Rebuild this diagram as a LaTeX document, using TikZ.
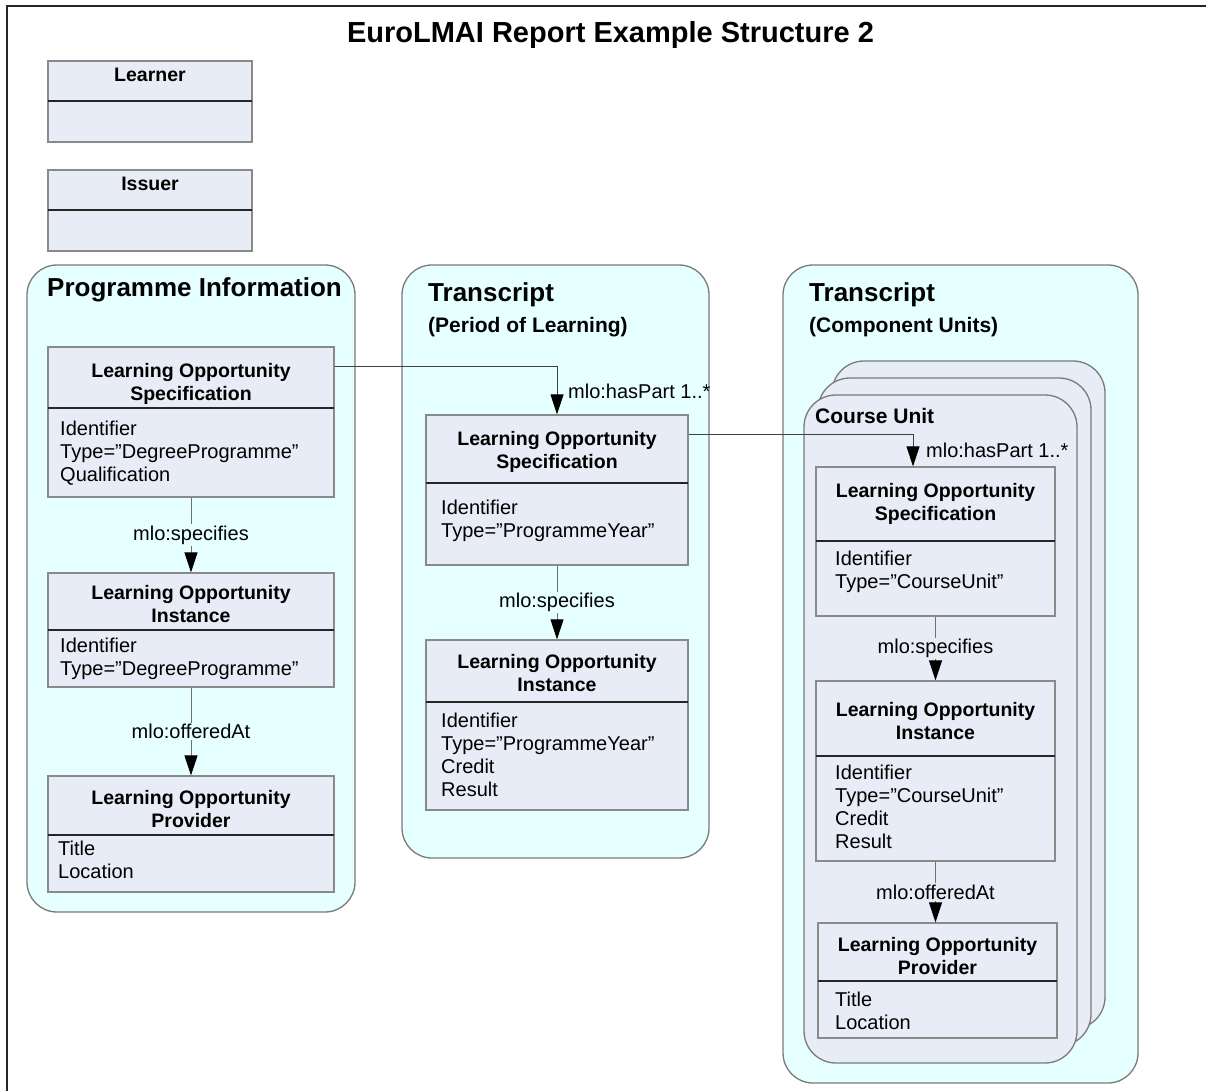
\documentclass[tikz,border=0pt]{standalone}
\usepackage{fontspec}
\setmainfont{Liberation Sans}
\usetikzlibrary{arrows.meta,fit,calc}
\definecolor{boxfill}{HTML}{E8ECF6}
\definecolor{contfill}{HTML}{E6FFFF}
\definecolor{boxline}{HTML}{8A8A8A}
\definecolor{contline}{HTML}{7A7A7A}
\definecolor{conline}{HTML}{707070}
\definecolor{hconline}{HTML}{404040}
\begin{document}
\begin{tikzpicture}[x=1pt,y=-1pt,
  cbox/.style={draw=boxline, fill=boxfill, line width=1.3pt, inner sep=0pt},
  container/.style={draw=contline, fill=contfill, line width=1.3pt, rounded corners=30pt, inner sep=0pt},
  card/.style={draw=contline, fill=boxfill, line width=1.3pt, rounded corners=32pt, inner sep=0pt},
  divline/.style={line width=2pt, draw=black!85},
  headtxt/.style={font=\fontsize{19.5}{23}\selectfont\bfseries, align=center, inner sep=0pt},
  attrtxt/.style={font=\fontsize{20}{23}\selectfont, align=left, inner sep=0pt, anchor=north west},
  rel/.style={draw=conline, line width=1pt, -{Triangle[length=20pt,width=13pt,color=black]}},
  relh/.style={draw=hconline, line width=1pt, -{Triangle[length=20pt,width=13pt,color=black]}},
  rellabel/.style={font=\fontsize{20}{23}\selectfont, inner sep=1.5pt},
  ttl/.style={font=\fontsize{26}{30}\selectfont\bfseries, inner sep=0pt, anchor=base west},
  subttl/.style={font=\fontsize{21}{25}\selectfont\bfseries, inner sep=0pt, anchor=base west},
]
\useasboundingbox (0,0) rectangle (1206,1091);
\fill[white] (0,0) rectangle (1206,1091);
% frame (only top and left visible)
\draw[line width=2pt, black!85] (7,1095) -- (7,6) -- (1210,6);

% title
\node[font=\fontsize{29}{33}\selectfont\bfseries, inner sep=0pt, anchor=base] (title) at (610.5,43) {EuroLMAI Report Example Structure 2};

% Learner / Issuer
\node[cbox, fit={(48,61) (252,142)}] (learner) {};
\draw[divline] (48,101) -- (252,101);
\node[headtxt, anchor=base] (learnert) at (150,82) {Learner};
\node[cbox, fit={(48,170) (252,251)}] (issuer) {};
\draw[divline] (48,210) -- (252,210);
\node[headtxt, anchor=base] (issuert) at (150,191) {Issuer};

% containers
\node[container, fit={(27,265) (355,912)}] (pi) {};
\node[ttl] (pit) at (47,296) {Programme Information};
\node[container, fit={(402,265) (709,858)}] (tr1) {};
\node[ttl] (tr1t) at (428,301) {Transcript};
\node[subttl] (tr1s) at (428,332.5) {(Period of Learning)};
\node[container, fit={(783,265) (1138,1083)}] (tr2) {};
\node[ttl] (tr2t) at (809,301) {Transcript};
\node[subttl] (tr2s) at (809,332.5) {(Component Units)};

% stacked course unit cards
\node[card, fit={(832,361) (1105,1029)}] (cardc) {};
\node[card, fit={(818,378) (1091,1046)}] (cardb) {};
\node[card, fit={(804,395) (1077,1063)}] (carda) {};
\node[subttl] (cut) at (815,423.5) {Course Unit};

% Programme Information boxes
\node[cbox, fit={(48,347) (334,497)}] (los1) {};
\draw[divline] (48,408) -- (334,408);
\node[headtxt] (los1h) at (191,383.5) {Learning Opportunity\\Specification};
\node[attrtxt] (los1a) at (60,420.4) {Identifier\\Type=”DegreeProgramme”\\Qualification};

\node[cbox, fit={(48,573) (334,687)}] (loi1) {};
\draw[divline] (48,630) -- (334,630);
\node[headtxt] (loi1h) at (191,604.5) {Learning Opportunity\\Instance};
\node[attrtxt] (loi1a) at (60,637.4) {Identifier\\Type=”DegreeProgramme”};

\node[cbox, fit={(48,776) (334,892)}] (lop1) {};
\draw[divline] (48,835) -- (334,835);
\node[headtxt] (lop1h) at (191,809.5) {Learning Opportunity\\Provider};
\node[attrtxt] (lop1a) at (58,840.4) {Title\\Location};

% Transcript (Period of Learning) boxes
\node[cbox, fit={(426,415) (688,565)}] (los2) {};
\draw[divline] (426,483) -- (688,483);
\node[headtxt] (los2h) at (557,451.5) {Learning Opportunity\\Specification};
\node[attrtxt] (los2a) at (441,499.4) {Identifier\\Type=”ProgrammeYear”};

\node[cbox, fit={(426,640) (688,810)}] (loi2) {};
\draw[divline] (426,702) -- (688,702);
\node[headtxt] (loi2h) at (557,673.5) {Learning Opportunity\\Instance};
\node[attrtxt] (loi2a) at (441,712.4) {Identifier\\Type=”ProgrammeYear”\\Credit\\Result};

% Course unit boxes
\node[cbox, fit={(816,467) (1055,616)}] (los3) {};
\draw[divline] (816,541) -- (1055,541);
\node[headtxt] (los3h) at (935.5,503.5) {Learning Opportunity\\Specification};
\node[attrtxt] (los3a) at (835,550.4) {Identifier\\Type=”CourseUnit”};

\node[cbox, fit={(816,681) (1055,861)}] (loi3) {};
\draw[divline] (816,756) -- (1055,756);
\node[headtxt] (loi3h) at (935.5,721.5) {Learning Opportunity\\Instance};
\node[attrtxt] (loi3a) at (835,764.4) {Identifier\\Type=”CourseUnit”\\Credit\\Result};

\node[cbox, fit={(818,923) (1057,1038)}] (lop3) {};
\draw[divline] (818,981) -- (1057,981);
\node[headtxt] (lop3h) at (937.5,956.5) {Learning Opportunity\\Provider};
\node[attrtxt] (lop3a) at (835,991.4) {Title\\Location};

% connectors
\draw[rel] (los1.south) -- node[rellabel, fill=contfill] (l1) {mlo:specifies} (loi1.north);
\draw[rel] (loi1.south) -- node[rellabel, fill=contfill] (l2) {mlo:offeredAt} (lop1.north);
\draw[rel] (los2.south) -- node[rellabel, fill=contfill] (l3) {mlo:specifies} (loi2.north);
\draw[rel] (los3.south) -- node[rellabel, fill=boxfill] (l4) {mlo:specifies} (loi3.north);
\draw[rel] (loi3.south) -- node[rellabel, fill=boxfill] (l5) {mlo:offeredAt} (loi3.south |- lop3.north);

\coordinate (h1s) at ($(los1.north east)+(0,20)$);
\draw[relh] (h1s) -| (los2.north);
\node[rellabel, inner sep=0pt, anchor=base west] (hp1) at (568,398) {mlo:hasPart 1..*};
\coordinate (h2s) at ($(los2.north east)+(0,20)$);
\coordinate (h2e) at ($(los3.north)+(-22.5,0)$);
\draw[relh] (h2s) -| (h2e);
\node[rellabel, inner sep=0pt, anchor=base west] (hp2) at (926,457) {mlo:hasPart 1..*};
\end{tikzpicture}
\end{document}
